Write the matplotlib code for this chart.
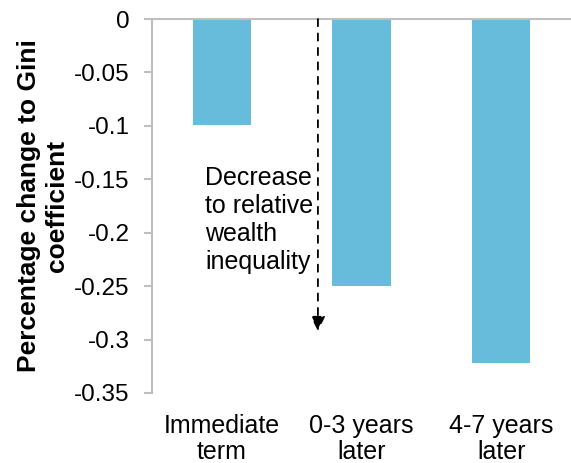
import matplotlib
matplotlib.use("Agg")
import matplotlib.pyplot as plt

categories = ["Immediate\nterm", "0-3 years\nlater", "4-7 years\nlater"]
values = [-0.099, -0.25, -0.322]
yticks = [0, -0.05, -0.1, -0.15, -0.2, -0.25, -0.3, -0.35]
ytick_labels = ["0", "-0.05", "-0.1", "-0.15", "-0.2", "-0.25", "-0.3", "-0.35"]

plt.rcParams["font.family"] = ["Liberation Sans", "DejaVu Sans"]
plt.rcParams["axes.unicode_minus"] = False

fig = plt.figure(figsize=(5.71, 4.63), dpi=100)
ax = fig.add_axes([0.2662, 0.1512, 0.7338, 0.8077])

x = list(range(len(categories)))
ax.bar(x, values, width=0.42, color="#67BBDB", zorder=2)

ax.set_xlim(-0.5, 2.5)
ax.set_ylim(-0.35, 0)
ax.set_yticks(yticks)
ax.set_yticklabels(ytick_labels, fontsize=17.5)
ax.set_xticks(x)
ax.set_xticklabels(categories, fontsize=18, linespacing=1.1)
ax.tick_params(axis="x", length=0, pad=15)
ax.tick_params(axis="y", length=6, width=1.5, color="#BFBFBF", pad=10)

for s in ["bottom", "right"]:
    ax.spines[s].set_visible(False)
for s in ["top", "left"]:
    ax.spines[s].set_color("#BFBFBF")
    ax.spines[s].set_linewidth(1.5)
ax.spines["top"].set_zorder(3)

# dashed arrow showing the direction of the decrease
ax.annotate("", xy=(0.688, -0.292), xytext=(0.688, 0),
            arrowprops=dict(arrowstyle="-|>", linestyle=(0, (4, 4)), color="black",
                            lw=1.3, mutation_scale=22, shrinkA=0, shrinkB=0),
            zorder=4)
ax.text(-0.12, -0.138, "Decrease\nto relative\nwealth\ninequality", fontsize=18,
        ha="left", va="top", multialignment="left", linespacing=1.2, zorder=5,
        bbox=dict(facecolor="white", edgecolor="none", pad=2))

ax.set_ylabel("Percentage change to Gini\ncoefficient", fontsize=19,
              fontweight="bold", linespacing=1.2, labelpad=3.5)

fig.savefig("out.png", dpi=100)
